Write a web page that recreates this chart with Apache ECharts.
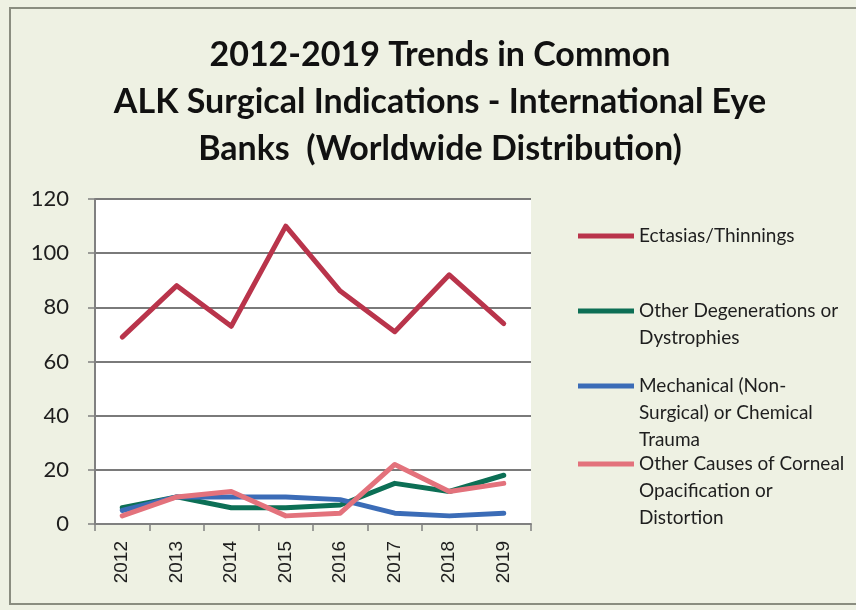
<!DOCTYPE html>
<html>
<head>
<meta charset="utf-8">
<script src="https://cdn.jsdelivr.net/npm/echarts@6/dist/echarts.min.js"></script>
<style>
  html, body { margin: 0; padding: 0; background: #eef1e3; }
  #chart { width: 856px; height: 610px; }
</style>
</head>
<body>
<div id="chart"></div>
<script>
// Years on the category axis
const years = ['2012', '2013', '2014', '2015', '2016', '2017', '2018', '2019'];

// Case counts per indication
const ectasias = [69, 88, 73, 110, 86, 71, 92, 74];
const degenerations = [6, 10, 6, 6, 7, 15, 12, 18];
const mechanical = [5, 10, 10, 10, 9, 4, 3, 4];
const otherCauses = [3, 10, 12, 3, 4, 22, 12, 15];

// Series names (line breaks as wrapped in the legend)
const seriesNames = [
  'Ectasias/Thinnings',
  'Other Degenerations or\nDystrophies',
  'Mechanical (Non-\nSurgical) or Chemical\nTrauma',
  'Other Causes of Corneal\nOpacification or\nDistortion'
];
const seriesData = [ectasias, degenerations, mechanical, otherCauses];
const seriesColors = ['#b9344b', '#0c6f55', '#3b6cb7', '#e3727c'];

const titleLines = '2012-2019 Trends in Common\nALK Surgical Indications - International Eye\nBanks  (Worldwide Distribution)';

// Vertical centre of each legend entry's first text line
const legendTops = [236, 311, 386, 464];
const legendLineH = 27;
const legendIconW = 56;

// Legend swatch: a short thick line level with the first text line.
// Two zero-area anchors keep the path's bounds equal to the whole item box.
function legendIcon(lines) {
  const h = lines * legendLineH;
  const c = legendLineH / 2;
  return 'path://M0,0L0.01,0' +
    'M0,' + (c - 2.5) + 'L' + legendIconW + ',' + (c - 2.5) +
    'L' + legendIconW + ',' + (c + 2.5) + 'L0,' + (c + 2.5) + 'Z' +
    'M0,' + h + 'L0.01,' + h;
}

const chart = echarts.init(document.getElementById('chart'));

const legends = seriesNames.map((name, i) => {
  const lines = name.split('\n').length;
  return {
    data: [name],
    left: 578,
    top: legendTops[i] - legendLineH / 2,
    icon: legendIcon(lines),
    itemWidth: legendIconW,
    itemHeight: lines * legendLineH,
    itemGap: 0,
    padding: 0,
    selectedMode: false,
    textStyle: {
      fontFamily: 'Lato, "Open Sans", sans-serif',
      fontSize: 19,
      color: '#1e1e1e',
      lineHeight: legendLineH
    },
    itemStyle: { borderWidth: 0 }
  };
});

const option = {
  backgroundColor: '#eef1e3',
  animation: false,
  title: {
    text: titleLines,
    left: 440,
    textAlign: 'center',
    top: 32,
    padding: 0,
    textStyle: {
      fontFamily: 'Lato, "Open Sans", sans-serif',
      fontWeight: 'bold',
      fontSize: 34,
      lineHeight: 47,
      color: '#111'
    }
  },
  graphic: [
    {
      type: 'rect',
      shape: { x: 10, y: 8, width: 900, height: 596 },
      style: { fill: 'none', stroke: '#8a8d80', lineWidth: 2 },
      z: -1
    }
  ],
  legend: legends,
  grid: {
    left: 95,
    right: 325,
    top: 199,
    bottom: 86,
    show: true,
    backgroundColor: '#ffffff',
    borderWidth: 0
  },
  xAxis: {
    type: 'category',
    data: years,
    boundaryGap: true,
    axisLine: { lineStyle: { color: '#808080', width: 2 } },
    axisTick: { show: true, length: 7, lineStyle: { color: '#808080', width: 1.5 } },
    axisLabel: {
      rotate: 90,
      margin: 17,
      fontFamily: '"Liberation Sans", Arial, sans-serif',
      fontSize: 19,
      color: '#1e1e1e'
    }
  },
  yAxis: {
    type: 'value',
    min: 0,
    max: 120,
    interval: 20,
    axisLine: { show: true, lineStyle: { color: '#808080', width: 2 } },
    axisTick: { show: true, length: 7, lineStyle: { color: '#808080', width: 1.5 } },
    splitLine: { lineStyle: { color: '#7a7a7a', width: 2 } },
    axisLabel: {
      margin: 26,
      fontFamily: 'Lato, "Open Sans", sans-serif',
      fontSize: 22,
      color: '#1e1e1e'
    }
  },
  series: seriesNames.map((name, i) => ({
    name: name,
    type: 'line',
    data: seriesData[i],
    symbol: 'none',
    smooth: false,
    color: seriesColors[i],
    lineStyle: { width: 5, color: seriesColors[i], join: 'round', cap: 'round' },
    z: 10 + i
  }))
};

chart.setOption(option);
</script>
</body>
</html>
